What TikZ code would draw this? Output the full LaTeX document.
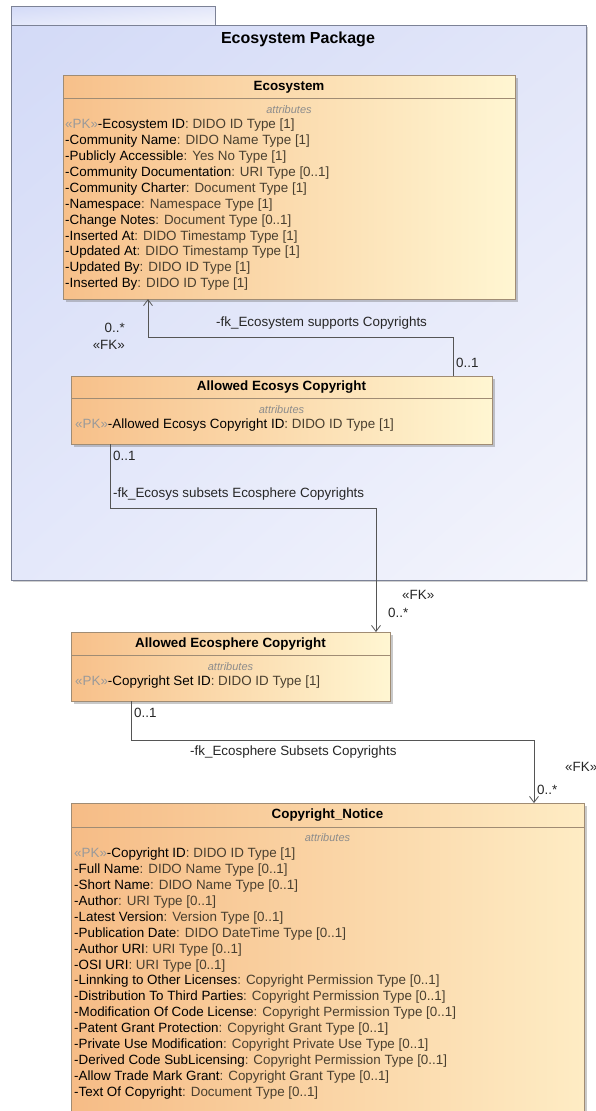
\documentclass[tikz,border=0pt]{standalone}
\usepackage{fontspec}
\setmainfont{Liberation Sans}
\usetikzlibrary{arrows.meta,shadows,shadings,calc}
\definecolor{pkgborder}{HTML}{7C8296}
\definecolor{clsborder}{HTML}{A08C74}
\definecolor{typecol}{HTML}{4A4030}
\definecolor{pkcol}{HTML}{9A9A9A}
\definecolor{attrcol}{HTML}{8C8C8C}
\definecolor{linecol}{HTML}{555555}
\definecolor{pkgUL}{RGB}{211,218,247}
\definecolor{pkgUR}{RGB}{226,230,249}
\definecolor{pkgLL}{RGB}{228,232,250}
\definecolor{pkgLR}{RGB}{244,245,252}
\definecolor{clsL}{RGB}{247,192,138}
\definecolor{clsR}{RGB}{255,246,210}
\definecolor{cnL}{RGB}{246,188,134}
\definecolor{cnR}{RGB}{254,236,196}
\newcommand\fsn{\fontsize{13.4}{16}\selectfont}
\begin{document}
\begin{tikzpicture}[x=1pt,y=-1pt,
  pkgbox/.style={draw=pkgborder, line width=1pt, outer sep=0pt, inner sep=0pt,
    upper left=pkgUL, upper right=pkgUR, lower left=pkgLL, lower right=pkgLR},
  clsbox/.style={draw=clsborder, line width=0.9pt, outer sep=0pt, inner sep=0pt,
    left color=clsL, right color=clsR,
    drop shadow={shadow xshift=2.5pt, shadow yshift=-2.5pt, opacity=0.35, fill=black!60}},
  clstitle/.style={font=\fsn\bfseries, inner sep=0pt, anchor=base},
  attrlabel/.style={font=\fontsize{11}{13}\selectfont\itshape, text=attrcol, inner sep=0pt, anchor=base},
  attrrow/.style={font=\fsn, inner sep=0pt, anchor=base west},
  lbl/.style={font=\fsn, inner sep=0pt, anchor=base west, text=black!85},
  lble/.style={font=\fsn, inner sep=0pt, anchor=base east, text=black!85},
  conn/.style={draw=linecol, line width=0.8pt, -{Straight Barb[length=6pt,width=9pt]}},
  sep/.style={draw=clsborder, line width=0.9pt}]
\clip (0,0) rectangle (596,1111);
\fill[white] (0,0) rectangle (596,1111);

% package
\node[pkgbox, minimum width=204pt, minimum height=19pt] (tab) at (113,15.5) {};
\node[pkgbox, minimum width=575pt, minimum height=555pt,
  drop shadow={shadow xshift=1.5pt, shadow yshift=-1.5pt, opacity=0.3, fill=black!60}] (pkg) at (298.5,302.5) {};
\node[font=\fontsize{16}{18}\selectfont\bfseries, inner sep=0pt, anchor=base] (pkgT) at (298,43.5) {Ecosystem Package};

% Ecosystem
\node[clsbox, minimum width=452pt, minimum height=224pt] (eco) at (289,187) {};
\draw[sep] (eco.west |- 0,98) -- (eco.east |- 0,98);
\node[clstitle] (ecoT) at (289,90.7) {Ecosystem};
\node[attrlabel] (ecoA) at (289,113.8) {attributes};
\foreach [count=\k from 0] \n/\t in {
  {\textcolor{pkcol}{«PK»}-Ecosystem ID}/{DIDO ID Type [1]},
  {-Community Name}/{DIDO Name Type [1]},
  {-Publicly Accessible}/{Yes No Type [1]},
  {-Community Documentation}/{URI Type [0..1]},
  {-Community Charter}/{Document Type [1]},
  {-Namespace}/{Namespace Type [1]},
  {-Change Notes}/{Document Type [0..1]},
  {-Inserted At}/{DIDO Timestamp Type [1]},
  {-Updated At}/{DIDO Timestamp Type [1]},
  {-Updated By}/{DIDO ID Type [1]},
  {-Inserted By}/{DIDO ID Type [1]}}
  {\node[attrrow] (eco-\k) at (65,128.7+15.9*\k) {\n\textcolor{typecol}{ : \t}};}

% Allowed Ecosys Copyright
\node[clsbox, minimum width=421pt, minimum height=68pt] (aec) at (281.5,410) {};
\draw[sep] (aec.west |- 0,398) -- (aec.east |- 0,398);
\node[clstitle] (aecT) at (281.5,390.7) {Allowed Ecosys Copyright};
\node[attrlabel] (aecA) at (281.5,413.8) {attributes};
\node[attrrow] (aec-0) at (75,428.7) {\textcolor{pkcol}{«PK»}-Allowed Ecosys Copyright ID\textcolor{typecol}{ : DIDO ID Type [1]}};

% Allowed Ecosphere Copyright
\node[clsbox, minimum width=319pt, minimum height=69pt] (aes) at (230.5,666.5) {};
\draw[sep] (aes.west |- 0,655) -- (aes.east |- 0,655);
\node[clstitle] (aesT) at (230.5,647.7) {Allowed Ecosphere Copyright};
\node[attrlabel] (aesA) at (230.5,670.8) {attributes};
\node[attrrow] (aes-0) at (75,685.7) {\textcolor{pkcol}{«PK»}-Copyright Set ID\textcolor{typecol}{ : DIDO ID Type [1]}};

% Copyright_Notice
\node[clsbox, minimum width=513pt, minimum height=322pt,
  left color=cnL, right color=cnR] (cn) at (327.5,964) {};
\draw[sep] (cn.west |- 0,827) -- (cn.east |- 0,827);
\node[clstitle] (cnT) at (327.5,818.7) {Copyright\_Notice};
\node[attrlabel] (cnA) at (327.5,841.8) {attributes};
\foreach [count=\k from 0] \n/\t in {
  {\textcolor{pkcol}{«PK»}-Copyright ID}/{DIDO ID Type [1]},
  {-Full Name}/{DIDO Name Type [0..1]},
  {-Short Name}/{DIDO Name Type [0..1]},
  {-Author}/{URI Type [0..1]},
  {-Latest Version}/{Version Type [0..1]},
  {-Publication Date}/{DIDO DateTime Type [0..1]},
  {-Author URI}/{URI Type [0..1]},
  {-OSI URI}/{URI Type [0..1]},
  {-Linnking to Other Licenses}/{Copyright Permission Type [0..1]},
  {-Distribution To Third Parties}/{Copyright Permission Type [0..1]},
  {-Modification Of Code License}/{Copyright Permission Type [0..1]},
  {-Patent Grant Protection}/{Copyright Grant Type [0..1]},
  {-Private Use Modification}/{Copyright Private Use Type [0..1]},
  {-Derived Code SubLicensing}/{Copyright Permission Type [0..1]},
  {-Allow Trade Mark Grant}/{Copyright Grant Type [0..1]},
  {-Text Of Copyright}/{Document Type [0..1]}}
  {\node[attrrow] (cn-\k) at (74,857.7+15.9*\k) {\n\textcolor{typecol}{ : \t}};}

% connectors
\draw[conn] ([xshift=382pt]aec.north west) -- ++(0,-39) -| ([xshift=85pt]eco.south west);
\draw[conn] ([xshift=39pt]aec.south west) -- ++(0,64) -| ([xshift=305pt]aes.north west);
\draw[conn] ([xshift=60pt]aes.south west) -- ++(0,39) -| ([xshift=463pt]cn.north west);

% connector labels
\node[lbl] (l1) at (216,326.7) {-fk\_Ecosystem supports Copyrights};
\node[lble] (l1a) at (125,332.7) {0..*};
\node[lble] (l1b) at (125,349.7) {«FK»};
\node[lbl] (l1c) at (456,367.7) {0..1};
\node[lbl] (l2c) at (113,460.7) {0..1};
\node[lbl] (l2) at (113,497.7) {-fk\_Ecosys subsets Ecosphere Copyrights};
\node[lbl] (l2b) at (402,599.7) {«FK»};
\node[lbl] (l2a) at (388,617.7) {0..*};
\node[lbl] (l3c) at (134,717.7) {0..1};
\node[lbl] (l3) at (190,755.7) {-fk\_Ecosphere Subsets Copyrights};
\node[lbl] (l3b) at (565,771.7) {«FK»};
\node[lbl] (l3a) at (537,794.7) {0..*};
\end{tikzpicture}
\end{document}
